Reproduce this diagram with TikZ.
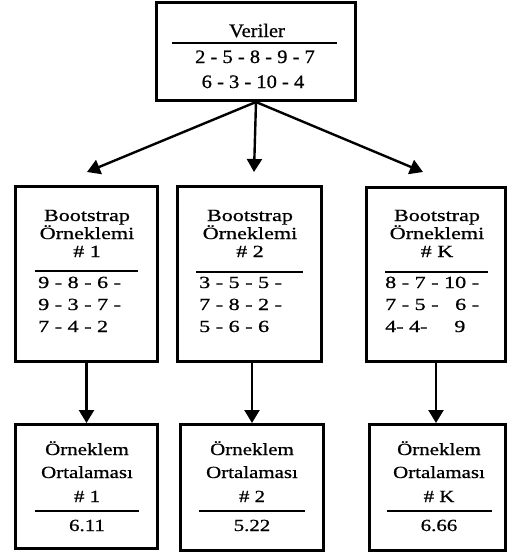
\documentclass[tikz,border=0pt]{standalone}
\usepackage{fontspec}
\setmainfont{Liberation Serif}
\newfontfamily\fonta[FakeStretch=1.08,FakeBold=0.8]{Liberation Serif}
\newfontfamily\fontb[FakeStretch=1.3,FakeBold=0.8]{Liberation Serif}
\newfontfamily\fontc[FakeStretch=1.23,FakeBold=0.8]{Liberation Serif}
\usetikzlibrary{arrows.meta}
\begin{document}
\begin{tikzpicture}[x=1pt,y=-1pt,
  box/.style={draw,line width=2.6pt,inner sep=0pt},
  arr/.style={line width=2.4pt,-{Triangle[width=15pt,length=13pt]}},
  sep/.style={line width=1.5pt},
  ta/.style={anchor=base,inner sep=0pt,font=\fonta\fontsize{19}{22}\selectfont},
  tb/.style={anchor=base,inner sep=0pt,font=\fontb\fontsize{17}{18}\selectfont},
  tn/.style={anchor=base west,inner sep=0pt,font=\fontb\fontsize{17}{18}\selectfont},
  tc/.style={anchor=base,inner sep=0pt,font=\fontc\fontsize{17}{20}\selectfont}]
\useasboundingbox (0,0) rectangle (509,555);

% boxes
\node[box,minimum width=199.4pt,minimum height=98.4pt] (top) at (256,51.5) {};
\node[box,minimum width=142.4pt,minimum height=175.4pt] (b1) at (86.5,274) {};
\node[box,minimum width=144.4pt,minimum height=175.4pt] (b2) at (249.5,274) {};
\node[box,minimum width=139.4pt,minimum height=174.4pt] (b3) at (436,274.5) {};
\node[box,minimum width=142.4pt,minimum height=124.4pt] (m1) at (86.5,486.5) {};
\node[box,minimum width=143.4pt,minimum height=126.4pt] (m2) at (252,487.5) {};
\node[box,minimum width=136.4pt,minimum height=126.4pt] (m3) at (437.5,487.5) {};

% top box text
\node[ta] (v0) at (257,37) {Veriler};
\draw[sep] (172,43) -- (337,43);
\node[ta] (v1) at (255,63) {2 - 5 - 8 - 9 - 7};
\node[ta] (v2) at (253,88) {6 - 3 - 10 - 4};

% bootstrap boxes
\node[tb] (b1a) at (87,221) {Bootstrap};
\node[tb] (b1b) at (87,239) {Örneklemi};
\node[tb] (b1c) at (87,257) {\# 1};
\draw[sep] (35,271) -- (138,271);
\node[tn] (b1d) at (38,288) {9 - 8 - 6 -};
\node[tn] (b1e) at (38,310) {9 - 3 - 7 -};
\node[tn] (b1f) at (38,332) {7 - 4 - 2};

\node[tb] (b2a) at (250,221) {Bootstrap};
\node[tb] (b2b) at (250,239) {Örneklemi};
\node[tb] (b2c) at (250,257) {\# 2};
\draw[sep] (196,272) -- (303,272);
\node[tn] (b2d) at (199,288) {3 - 5 - 5 -};
\node[tn] (b2e) at (199,310) {7 - 8 - 2 -};
\node[tn] (b2f) at (199,332) {5 - 6 - 6};

\node[tb] (b3a) at (437,221) {Bootstrap};
\node[tb] (b3b) at (437,239) {Örneklemi};
\node[tb] (b3c) at (437,257) {\# K};
\draw[sep] (385,272) -- (488,272);
\node[tn] (b3d) at (385,288) {8 - 7 - 10 -};
\node[tn] (b3e) at (385,310) {7 - 5 - \phantom{1}6 -};
\node[tn] (b3f) at (385,332) {4- 4- \phantom{11}9};

% mean boxes
\node[tc] (m1a) at (87,455) {Örneklem};
\node[tc] (m1b) at (87,478) {Ortalaması};
\node[tc] (m1c) at (87,502) {\# 1};
\draw[sep] (35,511) -- (139,511);
\node[tc] (m1d) at (87,531) {6.11};

\node[tc] (m2a) at (252,455) {Örneklem};
\node[tc] (m2b) at (252,478) {Ortalaması};
\node[tc] (m2c) at (252,502) {\# 2};
\draw[sep] (199,511) -- (305,511);
\node[tc] (m2d) at (252,531) {5.22};

\node[tc] (m3a) at (439,455) {Örneklem};
\node[tc] (m3b) at (439,478) {Ortalaması};
\node[tc] (m3c) at (439,502) {\# K};
\draw[sep] (387,511) -- (492,511);
\node[tc] (m3d) at (439,531) {6.66};

% connectors
\coordinate (t1) at (87,172);
\coordinate (t2) at (254,172);
\coordinate (t3) at (423,172);
\draw[arr] (top.south) -- (t1);
\draw[arr] (top.south) -- (t2);
\draw[arr] (top.south) -- (t3);
\draw[arr] (b1.south) -- (b1.south |- m1.north);
\draw[arr] (m2.north |- b2.south) -- (m2.north);
\draw[arr] (b3.south) -- (b3.south |- m3.north);
\end{tikzpicture}
\end{document}
